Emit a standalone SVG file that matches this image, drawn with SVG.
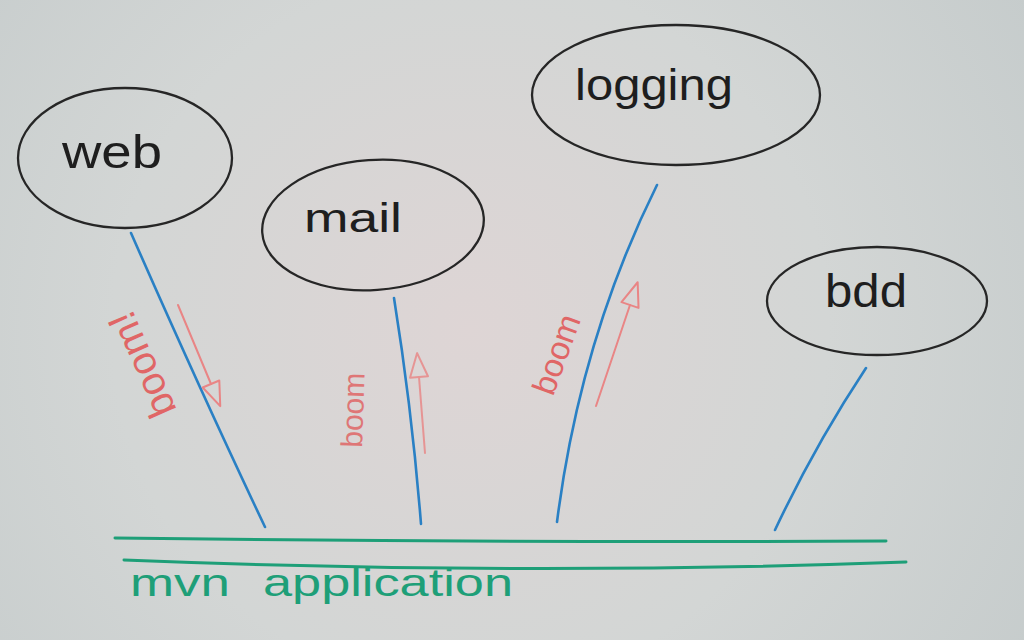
<svg xmlns="http://www.w3.org/2000/svg" width="1024" height="640" viewBox="0 0 1024 640">
  <defs>
    <radialGradient id="board" cx="470" cy="330" r="650" gradientUnits="userSpaceOnUse">
      <stop offset="0" stop-color="#ded5d5"/>
      <stop offset="0.55" stop-color="#d3d6d5"/>
      <stop offset="1" stop-color="#c6cccc"/>
    </radialGradient>
    <marker id="hollow" markerUnits="userSpaceOnUse" markerWidth="30" markerHeight="26" viewBox="-28 -13 30 26" refX="-24" refY="0" orient="auto">
      <path d="M0,0 L-24,-9 L-24,9 Z" fill="none" stroke="#e98585" stroke-width="2" stroke-linejoin="round"/>
    </marker>
    <style>
      .oval { fill: none; stroke: #262626; stroke-width: 2.3; }
      .label { font-family: "Liberation Sans", Arial, sans-serif; fill: #1e1e1e; text-anchor: middle; }
      .wire { fill: none; stroke: #2a80c4; stroke-width: 2.6; stroke-linecap: round; }
      .bus { fill: none; stroke: #1e9f78; stroke-width: 3; stroke-linecap: round; }
      .msg { fill: none; stroke: #e98585; stroke-width: 2; stroke-linecap: round; }
      .boom { font-family: "Liberation Sans", Arial, sans-serif; fill: #e06666; }
      .app { font-family: "Liberation Sans", Arial, sans-serif; fill: #1e9f78; }
    </style>
  </defs>

  <rect x="0" y="0" width="1024" height="640" fill="url(#board)"/>

  <g id="node-web">
    <ellipse class="oval" cx="125" cy="158" rx="107" ry="70"/>
    <text class="label" x="112" y="168" font-size="46" textLength="100" lengthAdjust="spacingAndGlyphs">web</text>
  </g>

  <g id="node-mail">
    <ellipse class="oval" cx="373" cy="225" rx="111" ry="65" transform="rotate(-4 373 225)"/>
    <text class="label" x="353" y="232" font-size="40" textLength="98" lengthAdjust="spacingAndGlyphs">mail</text>
  </g>

  <g id="node-logging">
    <ellipse class="oval" cx="676" cy="95" rx="144" ry="70"/>
    <text class="label" x="654" y="100" font-size="44" textLength="158" lengthAdjust="spacingAndGlyphs">logging</text>
  </g>

  <g id="node-bdd">
    <ellipse class="oval" cx="877" cy="301" rx="110" ry="54"/>
    <text class="label" x="866" y="307" font-size="46" textLength="82" lengthAdjust="spacingAndGlyphs">bdd</text>
  </g>

  <g id="node-app">
    <path class="bus" d="M115,538 Q500,543 886,541"/>
    <path class="bus" d="M124,560 Q520,576 906,562"/>
    <text class="app" y="596" font-size="38"><tspan x="130" textLength="100" lengthAdjust="spacingAndGlyphs">mvn</tspan><tspan x="263" textLength="250" lengthAdjust="spacingAndGlyphs">application</tspan></text>
  </g>

  <g id="connectors">
    <path class="wire" d="M131,233 Q200,390 265,527"/>
    <path class="wire" d="M394,298 Q412,410 421,524"/>
    <path class="wire" d="M657,185 Q580,340 557,522"/>
    <path class="wire" d="M866,368 Q815,445 775,530"/>
  </g>

  <g id="messages">
    <line class="msg" x1="178" y1="305" x2="211" y2="384" marker-end="url(#hollow)"/>
    <text class="boom" font-size="40" transform="translate(177,410) rotate(-114)">boom!</text>

    <line class="msg" x1="425" y1="453" x2="419" y2="377" marker-end="url(#hollow)" opacity="0.8"/>
    <text class="boom" font-size="30" opacity="0.85" transform="translate(362,448) rotate(-88)">boom</text>

    <line class="msg" x1="596" y1="406" x2="630" y2="305" marker-end="url(#hollow)"/>
    <text class="boom" font-size="33" transform="translate(553,397) rotate(-70)">boom</text>
  </g>
</svg>
